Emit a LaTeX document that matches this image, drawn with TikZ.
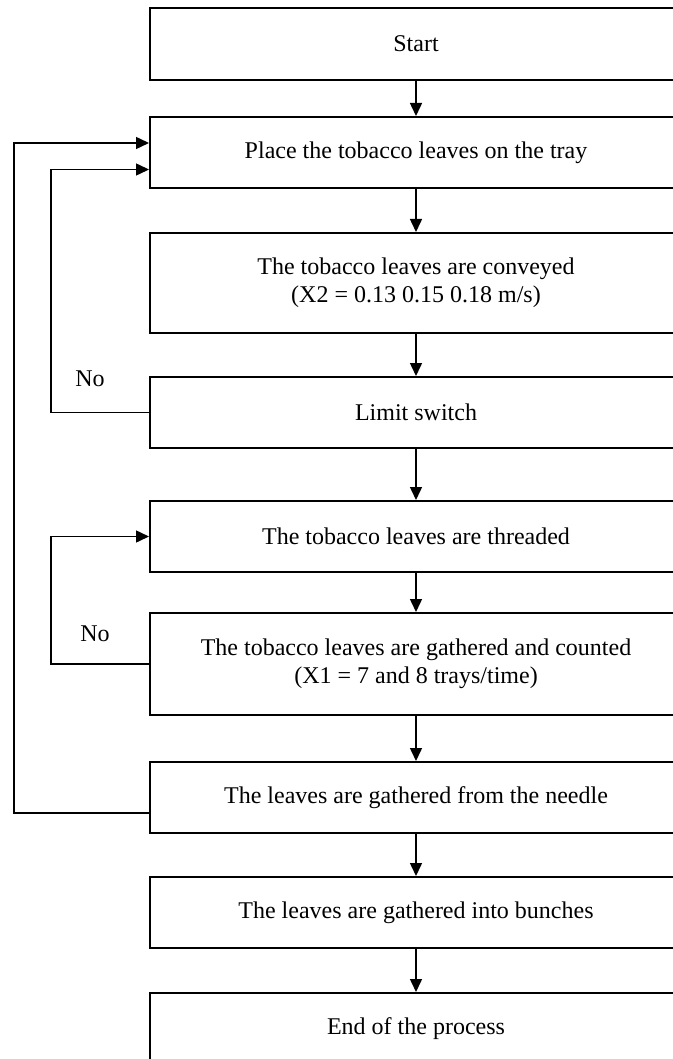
\documentclass[tikz,border=0pt]{standalone}
\usepackage{fontspec}
\setmainfont{Liberation Serif}
\usetikzlibrary{arrows.meta}

\begin{document}
\begin{tikzpicture}[x=0.5pt, y=-0.5pt,
    every node/.style={font=\fontsize{12}{14}\selectfont},
    box/.style={draw, line width=1pt, minimum width=266pt, inner sep=0pt, align=center},
    arr/.style={-{Triangle[length=6.5pt,width=6pt]}, line width=0.75pt}]

    % Page frame (boxes run off the right and bottom edge)
    \clip (0,0) rectangle (673,1059);

    % Process steps
    \node[box, minimum height=36pt] (start) at (416,44) {Start};
    \node[box, minimum height=35.5pt] (place) at (416,152.5) {Place the tobacco leaves on the tray};
    \node[box, minimum height=50pt] (convey) at (416,283) {The tobacco leaves are conveyed\\(X2 = 0.13 0.15 0.18 m/s)};
    \node[box, minimum height=35.5pt] (limit) at (416,412.5) {Limit switch};
    \node[box, minimum height=35.5pt] (thread) at (416,536.5) {The tobacco leaves are threaded};
    \node[box, minimum height=51pt] (count) at (416,664) {The tobacco leaves are gathered and counted\\(X1 = 7 and 8 trays/time)};
    \node[box, minimum height=35.5pt] (needle) at (416,797.5) {The leaves are gathered from the needle};
    \node[box, minimum height=35.5pt] (bunch) at (416,912.5) {The leaves are gathered into bunches};
    \node[box, minimum height=36pt] (finish) at (416,1029) {End of the process};

    % Main flow
    \draw[arr] (start) -- (place);
    \draw[arr] (place) -- (convey);
    \draw[arr] (convey) -- (limit);
    \draw[arr] (limit) -- (thread);
    \draw[arr] (thread) -- (count);
    \draw[arr] (count) -- (needle);
    \draw[arr] (needle) -- (bunch);
    \draw[arr] (bunch) -- (finish);

    % Feedback loops
    \draw[arr] (limit.west) -- ++(-98,0) |- ([yshift=-8.5pt]place.west);
    \draw[arr] (count.west) -- ++(-98,0) |- (thread.west);
    \draw[arr] ([yshift=-7.75pt]needle.west) -- ++(-135,0) |- ([yshift=4.75pt]place.west);

    % Loop labels
    \node (no1) at (90,379) {No};
    \node (no2) at (95,634) {No};

\end{tikzpicture}
\end{document}
